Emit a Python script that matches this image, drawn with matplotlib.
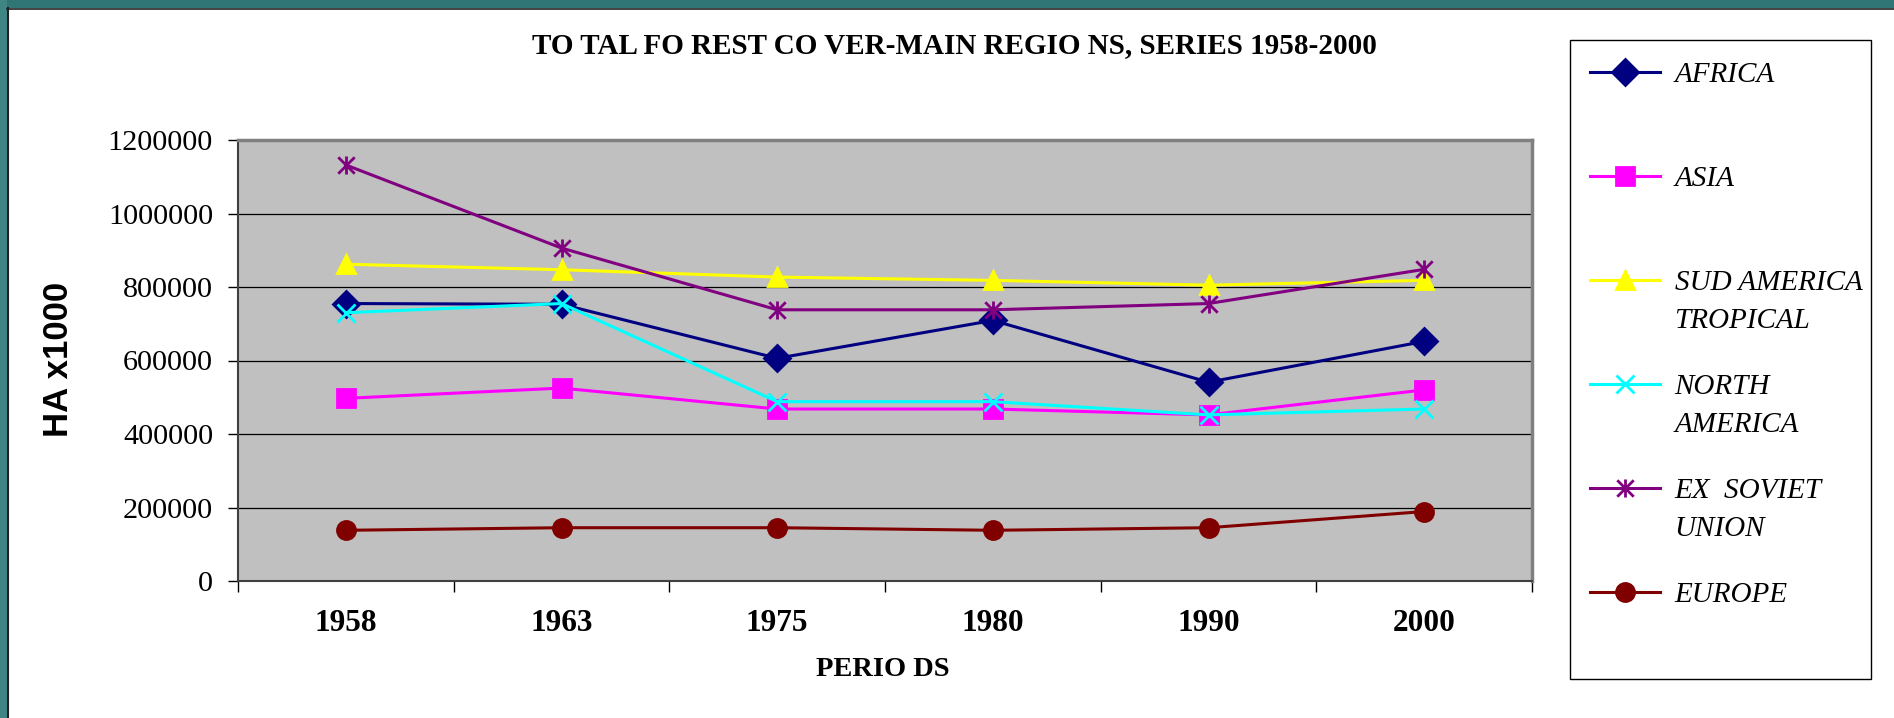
import matplotlib.pyplot as plt
from matplotlib.patches import Rectangle
from matplotlib.path import Path

periods = ['1958', '1963', '1975', '1980', '1990', '2000']
africa = [755000, 753000, 606000, 709000, 541000, 652000]
asia = [497000, 525000, 468000, 468000, 452000, 520000]
sud_america = [862000, 847000, 827000, 818000, 805000, 818000]
north_america = [730000, 755000, 488000, 488000, 452000, 468000]
ex_soviet = [1132000, 906000, 738000, 738000, 755000, 848000]
europe = [138000, 145000, 145000, 138000, 145000, 189000]

# legend labels: first line / wrapped second line
labels = ['AFRICA', 'ASIA', 'SUD AMERICA', 'NORTH', 'EX  SOVIET', 'EUROPE']
labels2 = ['', '', 'TROPICAL', 'AMERICA', 'UNION', '']
series = [africa, asia, sud_america, north_america, ex_soviet, europe]
colors = ['#000080', '#ff00ff', '#ffff00', '#00ffff', '#800080', '#800000']

# excel style asterisk: x plus a vertical bar
star = Path([(-1, -1), (1, 1), (-1, 1), (1, -1), (0, -1.1), (0, 1.1)],
            [Path.MOVETO, Path.LINETO, Path.MOVETO, Path.LINETO,
             Path.MOVETO, Path.LINETO])
markers = ['D', 's', '^', 'x', star, 'o']
msizes = [13, 12.5, 13.5, 13, 13, 13]

serif = 'Liberation Serif'
W, H = 1894, 718

fig = plt.figure(figsize=(W / 100, H / 100), dpi=100)
fig.patch.set_facecolor('white')

# teal frame on top and left (screenshot border)
fig.add_artist(Rectangle((0, 1 - 8/H), 1, 8/H, transform=fig.transFigure,
                         facecolor='#317676', edgecolor='none', zorder=0))
fig.add_artist(Rectangle((0, 0), 7/W, 1, transform=fig.transFigure,
                         facecolor='#3f8585', edgecolor='none', zorder=0))
fig.add_artist(plt.Line2D([7/W, 1], [1 - 8.5/H, 1 - 8.5/H],
                          transform=fig.transFigure, color='#202020', lw=1.2))
fig.add_artist(plt.Line2D([7.5/W, 7.5/W], [0, 1 - 8/H],
                          transform=fig.transFigure, color='#202020', lw=1.5))

ax = fig.add_axes([238/W, 137/H, 1294/W, 441/H])
ax.set_facecolor('#c0c0c0')

x = list(range(len(periods)))
handles = []
for vals, lab, c, m, ms in zip(series, labels, colors, markers, msizes):
    h, = ax.plot(x, vals, color=c, lw=2.2, marker=m, markersize=ms,
                 markerfacecolor=c, markeredgecolor=c, markeredgewidth=2,
                 label=lab)
    handles.append(h)

ax.set_xlim(-0.5, len(periods) - 0.5)
ax.set_ylim(0, 1200000)
ax.set_yticks(range(0, 1200001, 200000))
ax.set_yticklabels([str(v) for v in range(0, 1200001, 200000)],
                   fontfamily=serif, fontsize=21.8)
ax.set_xticks(x)
ax.set_xticklabels(periods, fontfamily=serif, fontsize=22.5, fontweight='bold')
ax.set_xticks([i - 0.5 for i in range(len(periods) + 1)], minor=True)
ax.tick_params(axis='x', which='major', length=0, pad=20.5)
ax.tick_params(axis='x', which='minor', length=8, width=1, direction='out')
ax.tick_params(axis='y', length=7, width=1, direction='out', pad=11)
ax.grid(axis='y', color='black', lw=0.9)
ax.set_axisbelow(True)
for s in ['top', 'right']:
    ax.spines[s].set_color('#808080')
    ax.spines[s].set_linewidth(2.5)
for s in ['left', 'bottom']:
    ax.spines[s].set_color('#404040')
    ax.spines[s].set_linewidth(1.5)

fig.text(954/W, 1 - 46/H, 'TO TAL FO REST CO VER-MAIN REGIO NS, SERIES 1958-2000',
         ha='center', va='center', fontfamily=serif, fontsize=21, fontweight='bold')
fig.text(58/W, 1 - 359/H, 'HA x1000', rotation=90, ha='center', va='center',
         fontfamily='Liberation Sans', fontsize=25, fontweight='bold')
fig.text(883/W, 1 - 669/H, 'PERIO DS', ha='center', va='center',
         fontfamily=serif, fontsize=20.5, fontweight='bold')

# legend box
fig.add_artist(Rectangle((1570/W, 1 - 679/H), 301/W, 639/H,
                         transform=fig.transFigure, facecolor='white',
                         edgecolor='black', lw=1, zorder=1))
legfont = {'family': serif, 'style': 'italic', 'size': 21}
leg = fig.legend(handles=handles, loc='upper left',
                 bbox_to_anchor=(1590/W, 1 - 62/H), frameon=False,
                 prop=legfont, handlelength=2.4, handletextpad=0.5,
                 labelspacing=2.66, borderpad=0, borderaxespad=0)
leg.set_zorder(2)

# wrapped second lines of the legend labels, like excel does
fig.canvas.draw()
for t, extra in zip(leg.get_texts(), labels2):
    if not extra:
        continue
    bb = t.get_window_extent()
    fig.text(bb.x0 / W, ((bb.y0 + bb.y1) / 2 - 38) / H, extra,
             ha='left', va='center', fontfamily=serif, fontstyle='italic',
             fontsize=21, zorder=3)

fig.savefig('out.png', dpi=100)
